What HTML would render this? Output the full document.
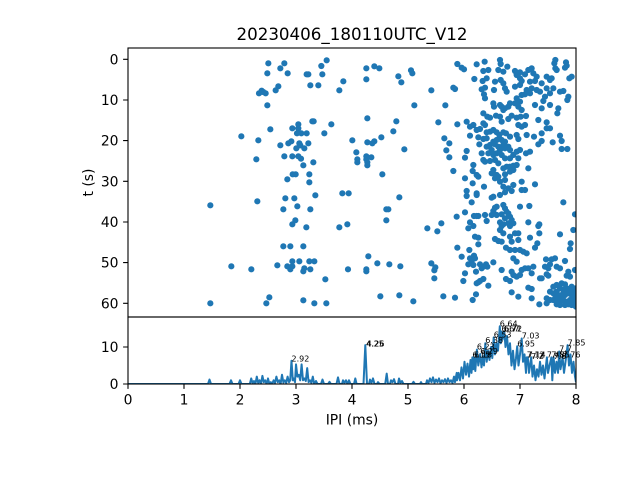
<!DOCTYPE html>
<html><head><meta charset="utf-8"><style>html,body{margin:0;padding:0;background:#fff}svg{display:block}text{font-family:"DejaVu Sans","Liberation Sans",sans-serif;fill:#000}</style></head><body>
<svg xmlns="http://www.w3.org/2000/svg" width="640" height="480" viewBox="0 0 640 480">
<rect width="640" height="480" fill="#fff"/>
<defs>
<clipPath id="ct"><rect x="128" y="48" width="448" height="269"/></clipPath>
<clipPath id="cb"><rect x="128" y="317" width="448" height="67"/></clipPath>
</defs>
<g clip-path="url(#ct)" fill="none" stroke="#1f77b4" stroke-width="18.6" stroke-linecap="round">
<path transform="translate(100,20) scale(0.33333)" d="M505 130h0M553 130h0M680 121h0M502 160h0M541 145h0M563 160h0M620 163h0M625 163h0M664 138h0M667 163h0M631 196h0M655 196h0M730 184h0M718 211h0M477 220h0M485 212h0M490 216h0M497 220h0M527 211h0M535 199h0M502 256h0M511 328h0M424 349h0M475 361h0M469 418h0M541 376h0M553 409h0M577 325h0M595 313h0M595 325h0M591 340h0M604 340h0M620 340h0M565 370h0M574 364h0M598 370h0M601 376h0M625 370h0M589 385h0M613 385h0M577 409h0M595 409h0M603 416h0M610 436h0M640 427h0M637 304h0M641 304h0M694 313h0M673 340h0M578 463h0M587 463h0M628 463h0"/>
<path transform="translate(100,170) scale(0.33333)" d="M562 28h0M628 37h0M331 106h0M472 94h0M556 85h0M583 85h0M646 76h0M727 70h0M746 70h0M592 109h0M550 118h0M631 118h0M586 151h0M577 163h0M619 172h0M718 172h0M742 163h0M550 229h0M571 229h0M610 229h0M394 289h0M454 298h0M532 286h0M562 289h0M571 298h0M577 289h0M577 274h0M598 274h0M610 304h0M613 295h0M628 274h0M643 274h0M631 298h0M676 328h0M744 298h0M331 400h0M508 382h0M499 400h0M610 391h0M643 400h0M679 400h0"/>
<path transform="translate(340,45) scale(0.33333)" d="M79 70h0M103 64h0M118 70h0M79 103h0M175 94h0M184 112h0M213 76h0M217 85h0M274 136h0M223 181h0M316 181h0M82 220h0M169 229h0M295 232h0M37 286h0M82 292h0M97 295h0M103 289h0M124 277h0M160 259h0M193 313h0M313 280h0M328 295h0M319 316h0M328 337h0M49 322h0M52 343h0M52 352h0M79 334h0M79 343h0M82 352h0M82 361h0M94 337h0M127 388h0"/>
<path transform="translate(340,180) scale(0.33333)" d="M178 52h0M139 88h0M145 88h0M139 121h0M262 145h0M292 154h0M304 130h0M85 229h0M112 250h0M148 253h0M181 259h0M79 268h0M79 274h0M274 250h0M286 262h0M283 271h0M283 295h0M121 349h0M178 346h0M220 364h0M310 349h0"/>
<path transform="translate(450,45) scale(0.33333)" d="M22 57h0M35 68h0M42 73h0M80 58h0M104 50h0M150 45h0M152 57h0M172 65h0M316 45h0M313 55h0M348 52h0M350 62h0M100 78h0M115 75h0M145 75h0M160 80h0M195 78h0M200 90h0M210 82h0M225 88h0M235 75h0M245 70h0M250 85h0M260 95h0M290 95h0M305 100h0M316 70h0M320 75h0M345 68h0M358 100h0M365 95h0M73 102h0M98 108h0M110 100h0M135 110h0M152 105h0M160 115h0M210 100h0M215 108h0M240 110h0M255 108h0M275 115h0M300 105h0M10 128h0M15 132h0M95 133h0M105 128h0M132 135h0M165 130h0M170 140h0M195 125h0M210 120h0M230 135h0M245 130h0M260 135h0M270 140h0M290 130h0M300 145h0M310 130h0M330 140h0M340 138h0M102 148h0M215 150h0M225 148h0M240 145h0M105 160h0M355 155h0M352 165h0M285 155h0M280 168h0M300 180h0M200 160h0M210 170h0M195 175h0M205 185h0M180 175h0M175 185h0M165 190h0M155 185h0M160 195h0M130 175h0M132 185h0M150 180h0M325 190h0M322 205h0M215 195h0M275 190h0M255 180h0M100 205h0M112 215h0M120 218h0M138 212h0M150 215h0M155 230h0M175 222h0M185 212h0M200 218h0M212 215h0M228 213h0M22 238h0M50 230h0M60 245h0M70 240h0M100 235h0M105 240h0M205 240h0M215 245h0M225 240h0M290 232h0M290 250h0M300 250h0M265 225h0M80 255h0M90 252h0M120 260h0M130 255h0M140 262h0M148 270h0M160 262h0M168 265h0M180 275h0M60 272h0M85 277h0M100 282h0M110 280h0M200 270h0M230 270h0M252 275h0M275 265h0M330 272h0M110 262h0"/>
<path transform="translate(450,135) scale(0.33333)" d="M130 20h0M140 15h0M155 15h0M165 20h0M205 12h0M275 18h0M265 28h0M308 22h0M335 18h0M88 28h0M110 35h0M120 30h0M125 45h0M135 28h0M145 35h0M150 45h0M160 30h0M165 40h0M175 35h0M180 45h0M115 55h0M130 60h0M140 55h0M155 60h0M165 70h0M180 70h0M190 60h0M200 50h0M205 70h0M210 45h0M228 55h0M240 50h0M95 55h0M100 75h0M105 80h0M120 78h0M135 75h0M145 85h0M160 100h0M170 95h0M180 95h0M190 92h0M200 90h0M50 48h0M45 68h0M70 90h0M68 108h0M10 108h0M235 100h0M130 105h0M125 115h0M140 120h0M135 130h0M145 125h0M165 118h0M180 110h0M190 105h0M150 140h0M165 135h0M160 155h0M175 160h0M190 150h0M215 140h0M215 165h0M225 165h0M255 148h0M45 130h0M80 120h0M85 125h0M68 145h0M102 155h0M50 168h0M50 183h0M80 175h0M80 180h0M125 188h0M130 185h0M150 180h0M185 168h0M165 172h0M335 42h0M352 42h0M340 202h0M375 238h0M65 202h0M20 245h0M45 232h0M72 243h0M80 243h0M85 243h0M105 240h0M135 218h0M140 215h0M160 210h0M165 220h0M170 230h0M175 235h0M180 245h0M185 255h0M155 238h0M165 250h0M150 262h0M160 268h0M175 265h0M190 265h0M210 215h0M238 213h0M235 262h0M268 268h0M60 262h0M110 258h0M125 240h0M130 228h0M140 240h0"/>
<path transform="translate(450,225) scale(0.33333)" d="M55 10h0M70 3h0M150 15h0M155 3h0M180 3h0M195 25h0M205 25h0M160 25h0M268 25h0M265 3h0M330 28h0M370 15h0M75 35h0M85 38h0M135 42h0M145 48h0M155 50h0M180 35h0M185 50h0M205 45h0M240 38h0M262 55h0M255 68h0M168 68h0M180 75h0M195 75h0M210 75h0M220 80h0M230 85h0M85 58h0M22 68h0M58 75h0M35 95h0M60 100h0M65 108h0M75 100h0M72 92h0M55 118h0M70 120h0M90 118h0M100 125h0M108 118h0M112 125h0M130 112h0M190 100h0M200 110h0M215 135h0M225 130h0M235 130h0M250 125h0M245 145h0M185 140h0M190 150h0M200 155h0M210 150h0M155 135h0M168 162h0M180 168h0M115 182h0M100 162h0M90 168h0M85 172h0M80 175h0M40 168h0M45 145h0M78 140h0M95 130h0M288 103h0M285 125h0M295 130h0M300 118h0M305 103h0M315 100h0M320 125h0M330 130h0M345 108h0M355 140h0M360 155h0M350 152h0M375 135h0M360 72h0M362 55h0M270 160h0M275 160h0M290 148h0M295 152h0M15 218h0M78 208h0M68 225h0M185 202h0M205 215h0M235 188h0M245 192h0M245 220h0M268 238h0M290 220h0M290 235h0M300 225h0M310 185h0M320 180h0M335 175h0M345 178h0M330 190h0M340 195h0M350 190h0M360 195h0M365 185h0M300 200h0M310 205h0M315 210h0M320 200h0M325 215h0M335 210h0M345 210h0M355 205h0M365 210h0M370 200h0M378 190h0M310 225h0M320 225h0M330 228h0M340 225h0M350 230h0M360 225h0M370 225h0M375 235h0M330 240h0M345 240h0M355 238h0M365 240h0M320 238h0M378 215h0M378 245h0"/>
</g>
<g clip-path="url(#cb)">
<polyline transform="translate(0,384) scale(1,-3.7)" vector-effect="non-scaling-stroke" fill="none" stroke="#1f77b4" stroke-width="2" stroke-linejoin="round" points="128,0 208,0 209.5,1.2 211,0 229.5,0 231,1 232.5,0 238.5,0 240,1 241.5,0 249.8,0 251.2,1.5 252.6,0.2 254,0.8 255.4,0 256.8,2 258.2,0.3 259.6,1 261,0 262.4,2.2 263.8,0.5 265.2,1 266.6,0 268,1.5 269.4,0 270.8,0.5 272.2,0 273.6,1 275,0.3 276.4,2 277.8,0.5 279.2,1 280.6,0 282,2.5 283.4,0.4 284.8,1 286.2,0.3 287.6,2 289,0.5 290.2,1 291.5,6.3 292.8,1 293.8,1.5 295,0.5 296,5.3 297.4,2 298.8,2.5 300.2,1 301.6,5.3 303,1 304.4,1.5 305.8,0.8 307.2,4.3 308.6,0.5 310,1 311.4,0.3 312.8,2 314.2,0 316,0.8 317.5,0 321,0 322.5,1.2 324,0 328,0 329.5,0.6 331,0 336.5,0 338,1.8 339.5,0 342,0 343,1 344.5,0.3 346,1 347.5,0 349,1 350.5,0 354,0 355.3,1.5 356.6,0 363.5,0 365.3,10.5 367,0 369,0 370,1.2 371.5,0.3 373,1.5 374.5,0 377,0 378,0.5 379.5,0 385.2,0 386.7,2.8 388,0 390,0 391,1 392.5,0.5 394,1.3 395.5,0 398,0 399,1.5 400.5,0.3 402,0.8 403.5,0 412,0 413.5,0.6 415,0 420,0 421,0.5 422,0 426,0 427,1 428.5,0.3 430,1.5 431.5,0.5 433,1.8 434.5,0.3 436,1.2 437.5,0.5 439,1.5 440.5,0.2 442,1 443.5,0.5 445,1.3 446.5,0.3 448,1.5 449.5,0.5 451,1 452.5,0.3 454,2 455,0.5 456.7,3 457,1 458.5,3 460,1 461.5,4.5 463,1.5 464.5,6 466,2.5 467.5,5.5 469,2 470.5,6.5 471.5,3 472.4,7.2 473.3,4 474.1,7.2 475.3,3.5 476.9,9.3 478.3,5 480.2,8.1 481.5,4.5 483,7.5 484,5 485.3,11 486.7,6 488,9 489.5,6.5 491,10 492.3,7 493.7,12.6 495,8 496.5,11 498,9 499.8,15.6 500.8,11 501.5,14.2 502.5,12 503.8,14.2 504.3,14.2 505.5,10 507,13 508.5,8 510,11 511.5,5 513,9 514.5,4 516,7 517.2,10.2 518.5,5 520,8 521.7,12.3 523,6 524.5,8 526,3 526.7,7.2 527.8,7.2 529,3 531.2,7.2 532.5,2 534,5 535.5,1 537,4 538.5,2 540,6 541.5,2.5 543,5 544.5,1.5 546.9,7.2 548,3 549.5,5 551.4,7.2 552.3,1 553.6,7.2 555,3 556.5,6 558,3 559.2,8.8 560.5,4 562.6,7.2 564,3 565.5,6 567.6,10.5 569,5 570.5,8 572,3 573.5,6 575,2 576,0.5"/>
</g>
<g font-size="8px">
<text x="291.5" y="361.5">2.92</text>
<text x="366" y="346.5">4.25</text><text x="366.6" y="346.5">4.26</text>
<text x="472.4" y="357.3">6.15</text><text x="474.1" y="357.3">6.18</text>
<text x="476.9" y="349.7">6.23</text>
<text x="480.2" y="354">6.29</text>
<text x="485.3" y="343">6.38</text>
<text x="493.7" y="337.3">6.53</text>
<text x="499.8" y="326.3">6.64</text>
<text x="501.5" y="331.3">6.67</text><text x="503.8" y="331.3">6.71</text><text x="504.3" y="331.3">6.72</text>
<text x="517.2" y="346.3">6.95</text>
<text x="521.7" y="338.7">7.03</text>
<text x="526.7" y="357.3">7.12</text><text x="527.8" y="357.3">7.14</text><text x="531.2" y="359">7.2</text>
<text x="546.9" y="357.3">7.48</text><text x="551.4" y="357.3">7.56</text><text x="553.6" y="359">7.6</text>
<text x="559.2" y="351.5">7.7</text>
<text x="562.6" y="357.3">7.76</text>
<text x="567.6" y="345.3">7.85</text>
</g>
<g fill="none" stroke="#000" stroke-width="1.1">
<rect x="128" y="48" width="448" height="269"/>
<rect x="128" y="317" width="448" height="67"/>
<path d="M128 59.3h-4.9M128 100h-4.9M128 140.6h-4.9M128 181.3h-4.9M128 222h-4.9M128 262.6h-4.9M128 303.3h-4.9M128 384h-4.9M128 347h-4.9M128 384v4.9M184 384v4.9M240 384v4.9M296 384v4.9M352 384v4.9M408 384v4.9M464 384v4.9M520 384v4.9M576 384v4.9"/>
</g>
<g font-size="13.9px" text-anchor="end">
<text x="118.5" y="64.3">0</text>
<text x="118.5" y="105">10</text>
<text x="118.5" y="145.6">20</text>
<text x="118.5" y="186.3">30</text>
<text x="118.5" y="227">40</text>
<text x="118.5" y="267.6">50</text>
<text x="118.5" y="308.3">60</text>
<text x="118.5" y="352">10</text>
<text x="118.5" y="389">0</text>
</g>
<g font-size="13.9px" text-anchor="middle">
<text x="128" y="404.3">0</text>
<text x="184" y="404.3">1</text>
<text x="240" y="404.3">2</text>
<text x="296" y="404.3">3</text>
<text x="352" y="404.3">4</text>
<text x="408" y="404.3">5</text>
<text x="464" y="404.3">6</text>
<text x="520" y="404.3">7</text>
<text x="576" y="404.3">8</text>
<text x="352" y="424.5">IPI (ms)</text>
<text transform="translate(93,182.5) rotate(-90)" x="0" y="0">t (s)</text>
<text x="352" y="40" font-size="16.7px">20230406_180110UTC_V12</text>
</g>
</svg>
</body></html>
